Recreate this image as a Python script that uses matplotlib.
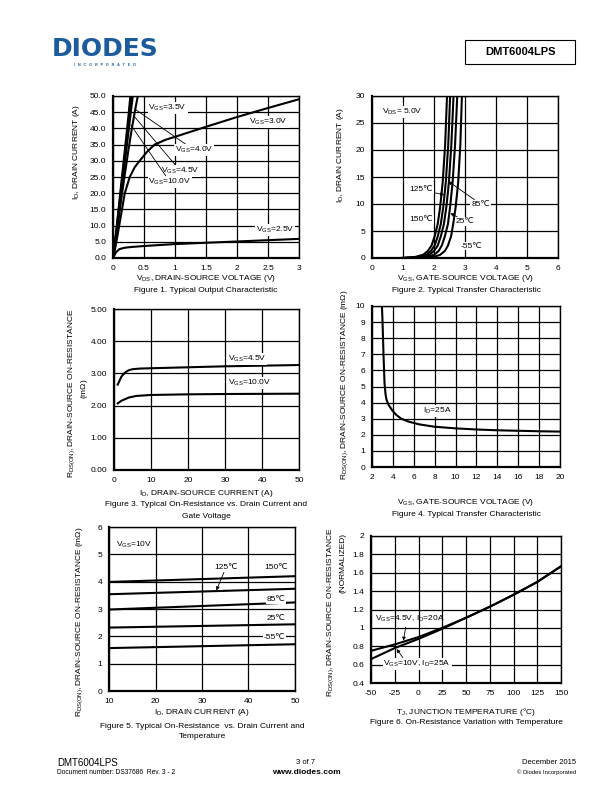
import matplotlib
matplotlib.use("Agg")
import matplotlib.pyplot as plt
from matplotlib.patches import Rectangle

plt.rcParams['font.family'] = ['Liberation Sans', 'DejaVu Sans']
plt.rcParams['mathtext.fontset'] = 'custom'
plt.rcParams['mathtext.rm'] = 'Liberation Sans'
plt.rcParams['mathtext.it'] = 'Liberation Sans'

# ---- Figure 1: output characteristic (VDS, ID) ----
f1_vgs10_x = [0, 0.05, 0.1, 0.15, 0.2, 0.25, 0.28]
f1_vgs10_y = [0, 8, 17, 26, 35, 44, 50]
f1_vgs45_x = [0, 0.05, 0.1, 0.15, 0.2, 0.25, 0.3]
f1_vgs45_y = [0, 7.5, 16, 24.5, 33, 41.5, 50]
f1_vgs40_x = [0, 0.05, 0.1, 0.15, 0.2, 0.25, 0.3, 0.32]
f1_vgs40_y = [0, 7, 15, 23, 31, 39, 47, 50]
f1_vgs35_x = [0, 0.05, 0.1, 0.15, 0.2, 0.25, 0.3, 0.35, 0.4]
f1_vgs35_y = [0, 6.5, 13.5, 20.5, 27, 33.5, 39.5, 45, 50]
f1_vgs30_x = [0, 0.03, 0.055, 0.1, 0.15, 0.19, 0.27, 0.35, 0.43, 0.55, 0.67, 0.85, 1.0, 1.5, 2.0, 2.5, 3.0]
f1_vgs30_y = [0, 2.5, 5, 10, 15.5, 20, 25, 28, 30, 32.8, 35, 36.5, 37.4, 40.5, 43.5, 46.3, 49]
f1_vgs25_x = [0, 0.05, 0.1, 0.15, 0.2, 0.3, 0.5, 0.75, 1, 1.5, 2, 2.5, 3]
f1_vgs25_y = [0, 1.8, 2.7, 3.0, 3.2, 3.4, 3.7, 4.0, 4.3, 4.7, 5.1, 5.5, 5.9]

# ---- Figure 2: transfer characteristic (VGS, ID) ----
f2_id = [0, 0.2, 0.6, 1.3, 2.3, 4.0, 6.3, 9.5, 14, 21, 30]
f2_v150 = [0.9, 1.4, 1.65, 1.8, 1.92, 2.02, 2.12, 2.2, 2.28, 2.36, 2.42]
f2_v125 = [1.0, 1.5, 1.75, 1.9, 2.02, 2.12, 2.22, 2.3, 2.38, 2.46, 2.52]
f2_v85 = [1.1, 1.6, 1.85, 2.0, 2.12, 2.22, 2.32, 2.4, 2.48, 2.56, 2.63]
f2_v25 = [1.3, 1.8, 2.0, 2.15, 2.25, 2.35, 2.45, 2.52, 2.6, 2.68, 2.75]
f2_vm55 = [1.6, 2.0, 2.2, 2.35, 2.45, 2.55, 2.62, 2.7, 2.78, 2.85, 2.9]

# ---- Figure 3: RDS(on) vs ID ----
f3_id45 = [1, 2, 3, 4, 5, 7, 10, 20, 30, 40, 50]
f3_r45 = [2.65, 2.9, 3.03, 3.1, 3.13, 3.15, 3.16, 3.19, 3.22, 3.24, 3.26]
f3_id10 = [1, 2, 4, 6, 10, 20, 30, 40, 50]
f3_r10 = [2.07, 2.15, 2.25, 2.3, 2.33, 2.35, 2.36, 2.365, 2.37]

# ---- Figure 4: RDS(on) vs VGS ----
f4_vgs = [2.95, 3.0, 3.1, 3.2, 3.3, 3.4, 3.6, 3.9, 4.3, 4.8, 5.5, 6.5, 8, 10, 12, 14, 16, 18, 20]
f4_r = [10, 9.2, 7.0, 5.2, 4.5, 4.15, 3.85, 3.55, 3.25, 3.0, 2.82, 2.65, 2.5, 2.4, 2.33, 2.28, 2.25, 2.22, 2.2]

# ---- Figure 5: RDS(on) vs ID and temperature ----
f5_id = [10, 50]
f5_r150 = [3.99, 4.2]
f5_r125 = [3.54, 3.74]
f5_r85 = [2.98, 3.24]
f5_r25 = [2.32, 2.44]
f5_rm55 = [1.57, 1.71]

# ---- Figure 6: normalized RDS(on) vs TJ ----
f6_t = [-50, -25, 0, 25, 50, 75, 100, 125, 150]
f6_r45 = [0.75, 0.82, 0.9, 1.0, 1.11, 1.23, 1.36, 1.5, 1.67]
f6_r10 = [0.66, 0.78, 0.88, 0.99, 1.11, 1.23, 1.36, 1.5, 1.67]

W, H = 612, 792
fig = plt.figure(figsize=(W / 100, H / 100), dpi=100)
FS = 6


def px_axes(l, t, r, b):
    return fig.add_axes([l / W, 1 - b / H, (r - l) / W, (b - t) / H])


def ftext(x, y, s, **kw):
    kw.setdefault('fontsize', FS)
    kw.setdefault('ha', 'center')
    kw.setdefault('va', 'center')
    fig.text(x / W, 1 - y / H, s, **kw)


def style(ax, xlim, ylim, xt, yt, xtl, ytl):
    ax.set_xlim(xlim)
    ax.set_ylim(ylim)
    ax.set_xticks(xt)
    ax.set_yticks(yt)
    ax.set_xticklabels(xtl)
    ax.set_yticklabels(ytl)
    ax.tick_params(length=0, labelsize=FS, pad=5)
    ax.grid(True, color='black', lw=0.9)
    for s in ax.spines.values():
        s.set_linewidth(1.0)
    ax.spines['left'].set_linewidth(1.6)
    ax.spines['bottom'].set_linewidth(1.6)


box = dict(facecolor='white', edgecolor='none', pad=0.6)
LW = 1.5

# Figure 1
ax1 = px_axes(113, 96, 299, 258)
for xs, ys in [(f1_vgs10_x, f1_vgs10_y), (f1_vgs45_x, f1_vgs45_y), (f1_vgs40_x, f1_vgs40_y),
               (f1_vgs35_x, f1_vgs35_y), (f1_vgs30_x, f1_vgs30_y), (f1_vgs25_x, f1_vgs25_y)]:
    ax1.plot(xs, ys, color='black', lw=LW)
style(ax1, (0, 3), (0, 50), [0, 0.5, 1, 1.5, 2, 2.5, 3], range(0, 51, 5),
      ['0', '0.5', '1', '1.5', '2', '2.5', '3'], ['%.1f' % v for v in range(0, 51, 5)])
ax1.text(0.57, 46.2, r'V$_{\rm GS}$=3.5V', fontsize=FS, va='center', bbox=box)
ax1.annotate(r'V$_{\rm GS}$=4.0V', xy=(0.35, 46), xytext=(1.0, 33.3), fontsize=FS, va='center',
             bbox=box, arrowprops=dict(arrowstyle='-', lw=0.6, shrinkA=0, shrinkB=0))
ax1.annotate(r'V$_{\rm GS}$=4.5V', xy=(0.33, 44), xytext=(0.78, 26.8), fontsize=FS, va='center',
             bbox=box, arrowprops=dict(arrowstyle='-', lw=0.6, shrinkA=0, shrinkB=0))
ax1.annotate(r'V$_{\rm GS}$=10.0V', xy=(0.29, 41), xytext=(0.57, 23.5), fontsize=FS, va='center',
             bbox=box, arrowprops=dict(arrowstyle='-', lw=0.6, shrinkA=0, shrinkB=0))
ax1.text(2.2, 42, r'V$_{\rm GS}$=3.0V', fontsize=FS, va='center', bbox=box)
ax1.text(2.3, 8.6, r'V$_{\rm GS}$=2.5V', fontsize=FS, va='center', bbox=box)
ftext(77, 152, r'I$_{\rm D}$, DRAIN CURRENT (A)', rotation=90)
ftext(206, 279, r'V$_{\rm DS}$, DRAIN-SOURCE VOLTAGE (V)')
ftext(206, 291, 'Figure 1. Typical Output Characteristic')

# Figure 2
ax2 = px_axes(372, 96, 558, 258)
for vs in [f2_v150, f2_v125, f2_v85, f2_v25, f2_vm55]:
    ax2.plot(vs, f2_id, color='black', lw=LW)
style(ax2, (0, 6), (0, 30), range(0, 7), range(0, 31, 5),
      [str(v) for v in range(0, 7)], [str(v) for v in range(0, 31, 5)])
ax2.text(0.32, 27.1, r'V$_{\rm DS}$= 5.0V', fontsize=FS, va='center', bbox=box)
arr = dict(arrowstyle='-|>', lw=0.6, mutation_scale=5, color='black', shrinkA=0, shrinkB=0)
ax2.annotate('125℃', xy=(2.33, 11.7), xytext=(1.2, 12.6), fontsize=FS, va='center',
             bbox=box, arrowprops=arr)
ax2.annotate('85℃', xy=(2.46, 14.2), xytext=(3.2, 10.0), fontsize=FS, va='center',
             bbox=box, arrowprops=arr)
ax2.text(1.2, 7.1, '150℃', fontsize=FS, va='center', bbox=box)
ax2.annotate('25℃', xy=(2.53, 8.3), xytext=(2.7, 6.8), fontsize=FS, va='center',
             bbox=box, arrowprops=arr)
ax2.text(2.85, 2.2, '-55℃', fontsize=FS, va='center', bbox=box)
ftext(341, 155, r'I$_{\rm D}$, DRAIN CURRENT (A)', rotation=90)
ftext(466, 279, r'V$_{\rm GS}$, GATE-SOURCE VOLTAGE (V)')
ftext(466, 291, 'Figure 2. Typical Transfer Characteristic')

# Figure 3
ax3 = px_axes(114, 309, 299, 470)
ax3.plot(f3_id45, f3_r45, color='black', lw=LW)
ax3.plot(f3_id10, f3_r10, color='black', lw=LW)
style(ax3, (0, 50), (0, 5), range(0, 51, 10), range(0, 6),
      [str(v) for v in range(0, 51, 10)], ['%.2f' % v for v in range(0, 6)])
ax3.text(30.8, 3.45, r'V$_{\rm GS}$=4.5V', fontsize=FS, va='center', bbox=box)
ax3.text(30.8, 2.7, r'V$_{\rm GS}$=10.0V', fontsize=FS, va='center', bbox=box)
ftext(72, 393, r'R$_{\rm DS(ON)}$, DRAIN-SOURCE ON-RESISTANCE', rotation=90)
ftext(84, 389, r'(m$\Omega$)', rotation=90)
ftext(206, 493, r'I$_{\rm D}$, DRAIN-SOURCE CURRENT (A)')
ftext(206, 505, 'Figure 3. Typical On-Resistance vs. Drain Current and')
ftext(206, 516, 'Gate Voltage')

# Figure 4
ax4 = px_axes(372, 306, 560, 467)
ax4.plot(f4_vgs, f4_r, color='black', lw=LW)
style(ax4, (2, 20), (0, 10), range(2, 21, 2), range(0, 11),
      [str(v) for v in range(2, 21, 2)], [str(v) for v in range(0, 11)])
ax4.text(6.9, 3.48, r'I$_{\rm D}$=25A', fontsize=FS, va='center', bbox=box)
ftext(345, 385, r'R$_{\rm DS(ON)}$, DRAIN-SOURCE ON-RESISTANCE (m$\Omega$)', rotation=90)
ftext(466, 503, r'V$_{\rm GS}$, GATE-SOURCE VOLTAGE (V)')
ftext(466, 514, 'Figure 4. Typical Transfer Characteristic')

# Figure 5
ax5 = px_axes(109, 527, 295, 691)
for rs in [f5_r150, f5_r125, f5_r85, f5_r25, f5_rm55]:
    ax5.plot(f5_id, rs, color='black', lw=LW)
style(ax5, (10, 50), (0, 6), range(10, 51, 10), range(0, 7),
      [str(v) for v in range(10, 51, 10)], [str(v) for v in range(0, 7)])
ax5.text(11.6, 5.33, r'V$_{\rm GS}$=10V', fontsize=FS, va='center', bbox=box)
ax5.annotate('125℃', xy=(33.1, 3.68), xytext=(32.6, 4.51), fontsize=FS, va='center',
             bbox=box, arrowprops=arr)
ax5.text(43.5, 4.51, '150℃', fontsize=FS, va='center', bbox=box)
ax5.text(43.9, 3.35, '85℃', fontsize=FS, va='center', bbox=box)
ax5.text(43.9, 2.65, '25℃', fontsize=FS, va='center', bbox=box)
ax5.text(43.2, 1.95, '-55℃', fontsize=FS, va='center', bbox=box)
ftext(80, 622, r'R$_{\rm DS(ON)}$, DRAIN-SOURCE ON-RESISTANCE (m$\Omega$)', rotation=90)
ftext(202, 712, r'I$_{\rm D}$, DRAIN CURRENT (A)')
ftext(202, 726, 'Figure 5. Typical On-Resistance  vs. Drain Current and')
ftext(202, 737, 'Temperature')

# Figure 6
ax6 = px_axes(371, 536, 561, 683)
ax6.plot(f6_t, f6_r45, color='black', lw=LW)
ax6.plot(f6_t, f6_r10, color='black', lw=LW)
yt6 = [0.4, 0.6, 0.8, 1.0, 1.2, 1.4, 1.6, 1.8, 2.0]
style(ax6, (-50, 150), (0.4, 2), range(-50, 151, 25), yt6,
      [str(v) for v in range(-50, 151, 25)], ['%g' % v for v in yt6])
ax6.annotate(r'V$_{\rm GS}$=4.5V, I$_{\rm D}$=20A', xy=(-15.9, 0.86), xytext=(-46, 1.094),
             fontsize=FS, va='center', arrowprops=dict(arr, relpos=(0.45, 0.0)))
ax6.annotate(r'V$_{\rm GS}$=10V, I$_{\rm D}$=25A', xy=(-23, 0.77), xytext=(-37, 0.61),
             fontsize=FS, va='center', bbox=box, arrowprops=dict(arr, relpos=(0.3, 1.0)))
ftext(331, 612, r'R$_{\rm DS(ON)}$, DRAIN-SOURCE ON-RESISTANCE', rotation=90)
ftext(343, 563, '(NORMALIZED)', rotation=90)
ftext(466, 712, r'T$_{\rm J}$, JUNCTION TEMPERATURE (°C)')
ftext(466, 723, 'Figure 6. On-Resistance Variation with Temperature')

# header
ftext(105, 49, 'DIODES', fontsize=18, fontweight='heavy', color='#1c5b9c', family='DejaVu Sans')
ftext(105, 65, 'I   N   C   O   R   P   O   R   A   T   E   D', fontsize=2.6, fontweight='bold',
      color='#1c5b9c')
fig.patches.append(Rectangle((465 / W, 1 - 64 / H), 110 / W, 24 / H, transform=fig.transFigure,
                             fill=False, edgecolor='black', lw=0.8))
ftext(520, 52, 'DMT6004LPS', fontsize=8, fontweight='bold')

# footer
ftext(57, 763, 'DMT6004LPS', fontsize=7, ha='left')
ftext(57, 773, 'Document number: DS37686  Rev. 3 - 2', fontsize=4.8, ha='left')
ftext(306, 763, '3 of 7', fontsize=5.5)
ftext(306, 772, 'www.diodes.com', fontsize=6, fontweight='bold')
ftext(576, 763, 'December 2015', fontsize=5.5, ha='right')
ftext(576, 772, '© Diodes Incorporated', fontsize=4.2, ha='right')

fig.savefig('out.png', dpi=100)
